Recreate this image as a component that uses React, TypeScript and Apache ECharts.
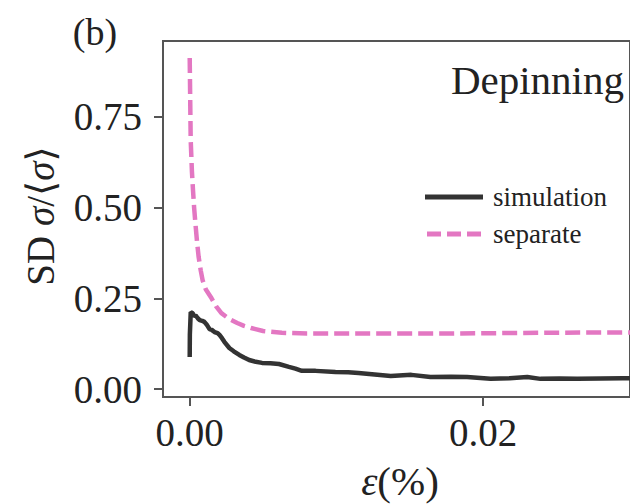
import { useEffect, useRef } from "react";
import * as echarts from "echarts";

// simulation (black solid)
const simX = [0, 0.00001, 0.00007, 0.0002, 0.0003, 0.0004, 0.00055, 0.00068, 0.00085, 0.001, 0.00115, 0.00135, 0.0015, 0.00169, 0.0019, 0.00203, 0.0022, 0.00236, 0.0027, 0.003, 0.00338, 0.0037, 0.00405, 0.0045, 0.00493, 0.0055, 0.00608, 0.00676, 0.0072, 0.00764, 0.0081, 0.00858, 0.00993, 0.0108, 0.0115, 0.0126, 0.0137, 0.0151, 0.0164, 0.0178, 0.0189, 0.0205, 0.0218, 0.023, 0.0239, 0.0252, 0.0264, 0.028, 0.0295, 0.03];
const simY = [0.088, 0.15, 0.212, 0.209, 0.2, 0.203, 0.195, 0.19, 0.188, 0.185, 0.178, 0.165, 0.163, 0.157, 0.154, 0.149, 0.14, 0.13, 0.113, 0.104, 0.094, 0.087, 0.08, 0.075, 0.072, 0.071, 0.069, 0.061, 0.056, 0.05, 0.05, 0.05, 0.047, 0.046, 0.044, 0.04, 0.036, 0.039, 0.033, 0.034, 0.033, 0.028, 0.03, 0.033, 0.028, 0.029, 0.028, 0.029, 0.03, 0.03];

// separate (pink dashed)
const sepX = [0, 0.000034, 0.0000676, 0.00015, 0.000223, 0.0003, 0.000385, 0.0005, 0.000608, 0.00075, 0.000878, 0.0011, 0.00149, 0.0018, 0.00216, 0.0027, 0.00324, 0.0037, 0.00419, 0.005, 0.00628, 0.008, 0.0108, 0.0176, 0.0243, 0.03];
const sepY = [0.912, 0.797, 0.686, 0.6, 0.549, 0.5, 0.458, 0.405, 0.364, 0.327, 0.3, 0.274, 0.25, 0.228, 0.209, 0.193, 0.182, 0.174, 0.168, 0.16, 0.155, 0.153, 0.153, 0.153, 0.155, 0.156];

const seriesNames = ["simulation", "separate"];
const xTicks = [0, 0.02];
const yTicks = [0, 0.25, 0.5, 0.75];
const xRange = [-0.00182, 0.03];
const yRange = [-0.022, 0.959];

export default function App() {
  const ref = useRef<HTMLDivElement>(null);
  useEffect(() => {
    const chart = echarts.init(ref.current!, undefined, { renderer: "svg" });
    const font = "'Liberation Serif', 'DejaVu Serif', serif";
    const axisColor = "#555";
    const textColor = "#222";
    const simColor = "#333333";
    const sepColor = "#e377c2";
    chart.setOption({
      animation: false,
      backgroundColor: "#ffffff",
      grid: {
        left: 163,
        top: 41,
        right: -4,
        bottom: 107,
        show: true,
        borderColor: axisColor,
        borderWidth: 2,
        backgroundColor: "transparent",
      },
      xAxis: {
        type: "value",
        min: xRange[0],
        max: xRange[1],
        axisLine: { show: false, onZero: false },
        splitLine: { show: false },
        axisTick: { show: true, inside: false, customValues: xTicks, length: 9, lineStyle: { color: axisColor, width: 2 } },
        axisLabel: {
          customValues: xTicks,
          formatter: (v: number) => v.toFixed(2),
          fontFamily: font,
          fontSize: 39,
          color: textColor,
          margin: 16,
        },
      },
      yAxis: {
        type: "value",
        min: yRange[0],
        max: yRange[1],
        axisLine: { show: false, onZero: false },
        splitLine: { show: false },
        axisTick: { show: true, inside: false, customValues: yTicks, length: 9, lineStyle: { color: axisColor, width: 2 } },
        axisLabel: {
          customValues: yTicks,
          formatter: (v: number) => v.toFixed(2),
          fontFamily: font,
          fontSize: 39,
          color: textColor,
          margin: 21,
        },
      },
      series: [
        {
          name: seriesNames[0],
          type: "line",
          symbol: "none",
          data: simX.map((x, i) => [x, simY[i]]),
          lineStyle: { color: simColor, width: 4.5 },
          itemStyle: { color: simColor },
          z: 3,
        },
        {
          name: seriesNames[1],
          type: "line",
          symbol: "none",
          data: sepX.map((x, i) => [x, sepY[i]]),
          lineStyle: { color: sepColor, width: 4.5, type: [15, 6] },
          itemStyle: { color: sepColor },
          z: 2,
        },
      ],
      graphic: [
        {
          type: "text",
          x: 95,
          y: 32,
          style: { text: "(b)", font: `38px ${font}`, fill: textColor, textAlign: "center", textVerticalAlign: "middle" },
        },
        {
          type: "text",
          x: 624,
          y: 80,
          style: { text: "Depinning", font: `41px ${font}`, fill: textColor, textAlign: "right", textVerticalAlign: "middle" },
        },
        {
          type: "text",
          x: 40,
          y: 216,
          rotation: Math.PI / 2,
          style: {
            text: "SD {i|σ}/⟨{i|σ}⟩",
            font: `39px ${font}`,
            fill: textColor,
            textAlign: "center",
            textVerticalAlign: "middle",
            rich: { i: { fontStyle: "italic", fontSize: 39, fontFamily: font, fill: textColor } },
          },
        },
        {
          type: "text",
          x: 400,
          y: 481,
          style: {
            text: "{i|ε}(%)",
            font: `41px ${font}`,
            fill: textColor,
            textAlign: "center",
            textVerticalAlign: "middle",
            rich: { i: { fontStyle: "italic", fontSize: 41, fontFamily: font, fill: textColor } },
          },
        },
        // legend
        {
          type: "line",
          shape: { x1: 425, y1: 197, x2: 483, y2: 197 },
          style: { stroke: simColor, lineWidth: 5 },
        },
        {
          type: "text",
          x: 493,
          y: 197,
          style: { text: seriesNames[0], font: `27px ${font}`, fill: textColor, textAlign: "left", textVerticalAlign: "middle" },
        },
        {
          type: "line",
          shape: { x1: 427, y1: 234, x2: 481, y2: 234 },
          style: { stroke: sepColor, lineWidth: 5, lineDash: [14, 6] },
        },
        {
          type: "text",
          x: 493,
          y: 234,
          style: { text: seriesNames[1], font: `27px ${font}`, fill: textColor, textAlign: "left", textVerticalAlign: "middle" },
        },
      ],
    });
    return () => chart.dispose();
  }, []);
  return <div ref={ref} style={{ position: "fixed", left: 0, top: 0, width: 630, height: 504 }} />;
}
